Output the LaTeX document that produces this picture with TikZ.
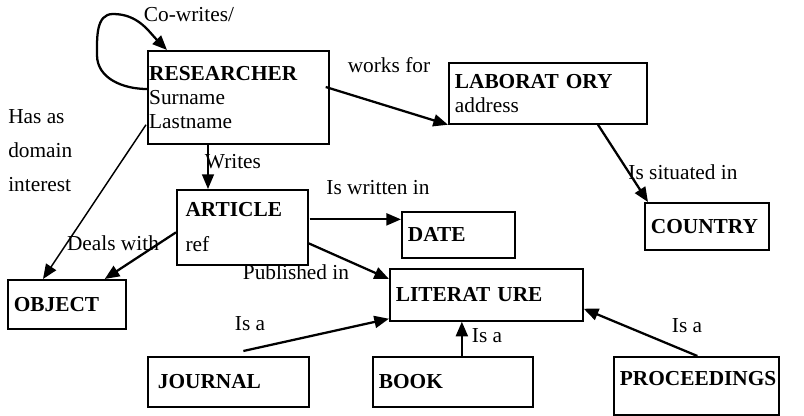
\documentclass[tikz,border=0pt]{standalone}
\usepackage{fontspec}
\setmainfont{Liberation Serif}
\usetikzlibrary{positioning, arrows.meta, calc}
\tikzset{
  every node/.style={font=\fontsize{16}{18}\selectfont},
  arr/.style={-{Triangle[length=11pt, width=9pt]}, line width=1.7pt},
  arrthin/.style={arr, line width=1.1pt},
  ent/.style={draw, line width=1.3pt, anchor=north west, align=left, inner xsep=4.5pt, inner ysep=0pt},
  lbl/.style={inner sep=0pt},
}

\begin{document}
\begin{tikzpicture}[x=0.75pt, y=-0.75pt]
  \useasboundingbox (0,0) rectangle (804,416);
  % entities
  \node[ent, inner xsep=1pt, text width=133.75pt, minimum height=69.75pt] (res) at (147,50)
    {\textbf{RESEARCHER}\\Surname\\Lastname};
  \node[ent, text width=139.5pt, minimum height=45.75pt] (lab) at (448,62)
    {\textbf{LABORAT ORY}\\address};
  \node[ent, inner xsep=6.5pt, text width=85.25pt, minimum height=56.25pt] (art) at (176,189)
    {\textbf{ARTICLE}\\[8pt]ref};
  \node[ent, text width=75.75pt, minimum height=34.5pt] (date) at (401,211) {\textbf{DATE}};
  \node[ent, text width=84pt, minimum height=35.25pt] (cou) at (644,202) {\textbf{COUNTRY}};
  \node[ent, text width=79.5pt, minimum height=36.75pt] (obj) at (7,279) {\textbf{OBJECT}};
  \node[ent, text width=135.75pt, minimum height=39pt] (lit) at (389,268) {\textbf{LITERAT URE}};
  \node[ent, inner xsep=7.5pt, text width=105.75pt, minimum height=37.5pt] (jou) at (147,356) {\textbf{JOURNAL}};
  \node[ent, text width=111pt, minimum height=37.5pt] (book) at (372,356) {\textbf{BOOK}};
  \node[ent, text width=114.75pt, minimum height=43.5pt, text depth=10.5pt] (pro) at (613,356) {\textbf{PROCEEDINGS}};
  % relation labels
  \node[lbl] (lcow) at (189,15) {Co-writes/};
  \node[lbl] (lwork) at (389,65) {works for};
  \node[lbl, anchor=west, align=left] (lhas) at (8,151) {Has as\\[7.5pt]domain\\[7.5pt]interest};
  \node[lbl] (lwrites) at (233,162) {Writes};
  \node[lbl] (lwritten) at (378,188) {Is written in};
  \node[lbl] (lsit) at (683,172) {Is situated in};
  \node[lbl] (ldeal) at (113,243) {Deals with};
  \node[lbl] (lpub) at (296,272) {Published in};
  \node[lbl] (lisa1) at (250,324) {Is a};
  \node[lbl] (lisa2) at (487,336) {Is a};
  \node[lbl] (lisa3) at (687,326) {Is a};
  % relations
  \draw[arr] ($(res.north west)+(0,39)$) to[out=180, in=270] ($(res.north west)+(-50,5)$)
    to[out=90, in=180] ($(res.north west)+(-34,-36)$) to[out=0, in=135] ($(res.north west)+(20,0)$);
  \draw[arr] ($(res.north east)+(-4,37)$) -- (lab.south west);
  \draw[arr] ($(lab.south west)+(150,0)$) -- ($(cou.north west)+(4,0)$);
  \draw[arrthin] ($(res.south west)+(61,0)$) -- ($(art.north west)+(32,0)$);
  \draw[arrthin] ($(res.south west)+(-1,-20)$) -- ($(obj.north west)+(36,0)$);
  \draw[arr] ($(art.west)+(0,5)$) -- ($(obj.north east)+(-22,0)$);
  \draw[arr] ($(art.east)+(1,-8)$) coordinate (wr) -- (wr -| date.west);
  \draw[arr] ($(art.east)+(0,16)$) -- ($(lit.north west)+(0,11)$);
  \draw[arr] ($(jou.north)+(15,-5)$) -- ($(lit.south west)+(0,-3)$);
  \draw[arr] ($(book.north)+(9,0)$) coordinate (bk) -- (bk |- lit.south);
  \draw[arr] ($(pro.north)+(1,0)$) -- ($(lit.south east)+(0,-13)$);
\end{tikzpicture}
\end{document}
